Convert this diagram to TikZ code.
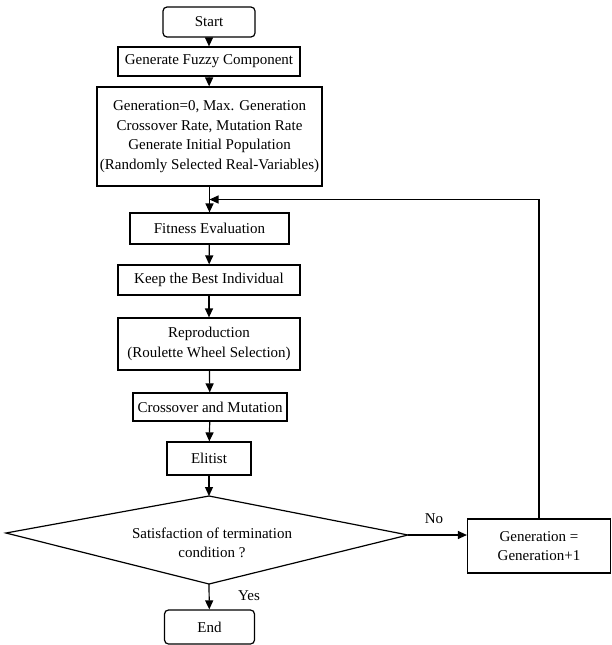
\documentclass[tikz,border=0pt]{standalone}
\usepackage{fontspec}
\setmainfont{Liberation Serif}
\usetikzlibrary{arrows.meta,calc}
\begin{document}
\begin{tikzpicture}[x=1pt,y=-1pt,
  box/.style={draw,line width=1.2pt,inner sep=1pt,align=center,font=\fontsize{15}{19.5}\selectfont},
  rbox/.style={box,rounded corners=4pt},
  arr/.style={line width=1.2pt,-{Triangle[length=9pt,width=8pt]}},
  lbl/.style={font=\fontsize{15}{19}\selectfont}]
\useasboundingbox (0,0) rectangle (611,645);
\node[rbox,minimum width=92pt,minimum height=30pt] (start) at (209,22) {Start};
\node[box,minimum width=182pt,minimum height=29pt] (fuzzy) at (209,61.5) {Generate Fuzzy Component};
\node[box,minimum width=225pt,minimum height=99pt] (init) at (209.5,136.5)
  {Generation=0, Max. Generation\\Crossover Rate, Mutation Rate\\Generate Initial Population\\(Randomly Selected Real-Variables)};
\node[box,minimum width=159pt,minimum height=31pt] (fit) at (209.5,228.5) {Fitness Evaluation};
\node[box,minimum width=182pt,minimum height=30pt] (keep) at (209,280) {Keep the Best Individual};
\node[box,minimum width=182pt,minimum height=52pt] (repro) at (209,344) {Reproduction\\(Roulette Wheel Selection)};
\node[box,minimum width=154pt,minimum height=28pt] (cross) at (210,407) {Crossover and Mutation};
\node[box,minimum width=84pt,minimum height=33pt] (elit) at (209,458.5) {Elitist};
\coordinate (dtop) at (209,496);
\coordinate (dleft) at (6,533);
\coordinate (dright) at (408,535);
\coordinate (dbot) at (209,584);
\draw[line width=1.2pt] (dtop) -- (dright) -- (dbot) -- (dleft) -- cycle;
\node[lbl,align=center,inner sep=0pt] (cond) at (212,543) {Satisfaction of termination\\condition ?};
\node[box,minimum width=143pt,minimum height=54pt] (gen) at (539,546) {Generation =\\Generation+1};
\node[rbox,minimum width=90pt,minimum height=34pt] (end) at (209.5,627) {End};
\coordinate (join) at ($(init.south)!0.5!(fit.north)$);
\draw[arr] (start) -- (fuzzy);
\draw[arr] (fuzzy) -- (init);
\draw[arr] (init) -- (fit);
\draw[arr] (fit) -- (keep);
\draw[arr] (keep) -- (repro);
\draw[arr] (repro) -- (cross);
\draw[arr] (cross) -- (elit);
\draw[arr] (elit) -- (dtop);
\draw[arr] (dbot) -- (end);
\draw[arr] (dright) -- (gen.west |- dright);
\draw[arr] (gen.north) |- (join);
\node[lbl] (no) at (434,519) {No};
\node[lbl] (yes) at (249,596) {Yes};
\end{tikzpicture}
\end{document}
